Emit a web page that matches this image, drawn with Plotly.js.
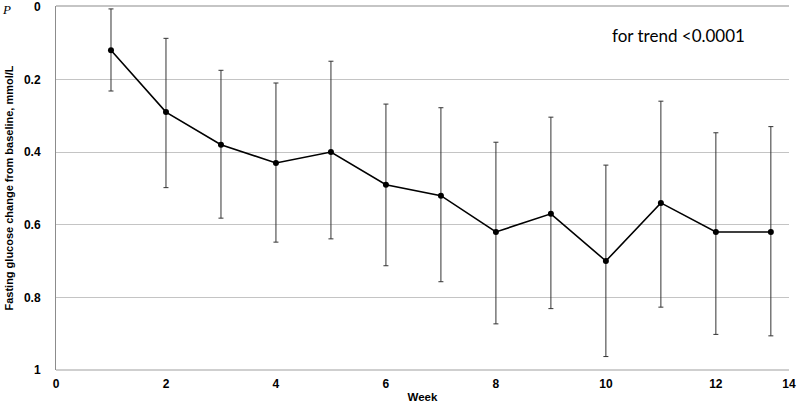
<!DOCTYPE html>
<html>
<head>
<meta charset="utf-8">
<script src="https://cdn.plot.ly/plotly-3.0.1.min.js"></script>
<style>html,body{margin:0;padding:0;background:#fff;}#chart{width:800px;height:403px;}</style>
</head>
<body>
<div id="chart"></div>
<script>
// Data
const weeks = [1, 2, 3, 4, 5, 6, 7, 8, 9, 10, 11, 12, 13];
const glucoseChange = [0.12, 0.29, 0.38, 0.43, 0.40, 0.49, 0.52, 0.62, 0.57, 0.70, 0.54, 0.62, 0.62];
const errUpper = [0.114, 0.203, 0.205, 0.22, 0.25, 0.222, 0.242, 0.247, 0.266, 0.264, 0.28, 0.273, 0.29];   // toward 0 (top of chart)
const errLower = [0.112, 0.208, 0.202, 0.218, 0.239, 0.223, 0.237, 0.253, 0.261, 0.263, 0.287, 0.282, 0.286]; // toward 1 (bottom)
const xTickVals = [0, 2, 4, 6, 8, 10, 12, 13.33];
const xTickText = ["0", "2", "4", "6", "8", "10", "12", "14"];
const yTickVals = [0, 0.2, 0.4, 0.6, 0.8, 1];
const yTickText = ["0", "0.2", "0.4", "0.6", "0.8", "1"];

const trace = {
  x: weeks,
  y: glucoseChange,
  type: 'scatter',
  mode: 'lines+markers',
  line: {color: '#000', width: 1.6},
  marker: {color: '#000', size: 6},
  error_y: {
    type: 'data',
    symmetric: false,
    array: errLower,
    arrayminus: errUpper,
    color: '#333',
    thickness: 1,
    width: 2.5
  },
  hoverinfo: 'x+y'
};

const tickFont = {family: 'Liberation Sans, Arial, sans-serif', size: 12, color: '#000', weight: 'bold'};

const layout = {
  width: 800, height: 403,
  margin: {l: 56, r: 11, t: 6, b: 33},
  paper_bgcolor: '#fff', plot_bgcolor: '#fff',
  showlegend: false,
  font: {family: 'Liberation Sans, Arial, sans-serif'},
  xaxis: {
    range: [0, 13.33],
    tickvals: xTickVals,
    ticktext: xTickText,
    tickfont: tickFont,
    showgrid: false,
    zeroline: false,
    showline: false,
    ticks: '',
    ticklabelstandoff: 5,
    title: {text: '<b>Week</b>', font: {family: 'Liberation Sans, Arial, sans-serif', size: 11.5, color: '#000'}, standoff: 6}
  },
  yaxis: {
    range: [1, -0.002],
    tickvals: yTickVals,
    ticktext: yTickText,
    tickfont: tickFont,
    ticklabeloverflow: 'allow',
    showgrid: true,
    gridcolor: '#c4c4c4',
    gridwidth: 1,
    zeroline: false,
    showline: true,
    linecolor: '#8c8c8c',
    linewidth: 1,
    ticks: '',
    ticklabelstandoff: 12,
    title: {text: '<b>Fasting glucose change from baseline, mmol/L</b>', font: {family: 'Liberation Sans, Arial, sans-serif', size: 11, color: '#000'}, standoff: 8}
  },
  shapes: [
    {type: 'line', xref: 'paper', yref: 'paper', x0: 0, x1: 1, y0: 1, y1: 1, line: {color: '#8c8c8c', width: 1.2}},
    {type: 'line', xref: 'paper', yref: 'paper', x0: 0, x1: 1, y0: 0, y1: 0, line: {color: '#cfcfcf', width: 2}}
  ],
  annotations: [
    {text: 'for trend <0.0001', xref: 'paper', yref: 'paper', x: 0.756, y: 0.918, xanchor: 'left', yanchor: 'middle', showarrow: false,
     font: {family: 'Lato, Open Sans, sans-serif', size: 17, color: '#000'}},
    {text: '<i>P</i>', xref: 'paper', yref: 'paper', x: -0.076, y: 1.016, xanchor: 'left', yanchor: 'top', showarrow: false,
     font: {family: 'Liberation Serif, serif', size: 13, color: '#000'}}
  ]
};

Plotly.newPlot('chart', [trace], layout, {displayModeBar: false, staticPlot: true});
</script>
</body>
</html>
